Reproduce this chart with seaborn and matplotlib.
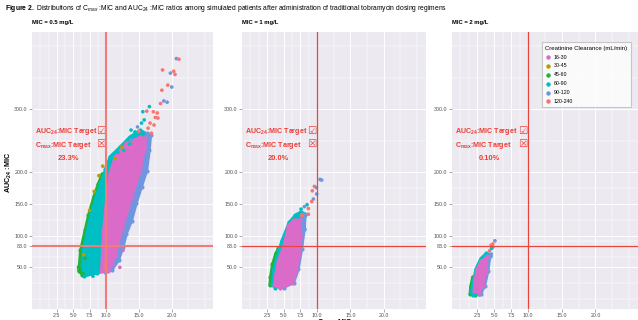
import pandas as pd
import matplotlib
matplotlib.use('Agg')
import matplotlib.pyplot as plt
from matplotlib.lines import Line2D
import seaborn as sns

# Groups and colours (creatinine clearance, mL/min)
groups = ['16-30', '30-45', '45-60', '60-90', '90-120', '120-240']
colors = ['#DB6BC8', '#B79F00', '#1DB33C', '#00BFC4', '#6F96E0', '#F8766D']

mic_titles = ['MIC = 0.5 mg/L', 'MIC = 1 mg/L', 'MIC = 2 mg/L']
pct_labels = ['23.3%', '20.0%', '0.10%']
x_ticks = [2.5, 5.0, 7.5, 10.0, 15.0, 20.0]
y_ticks = [50, 83, 100, 150, 200, 300]
x_minor = [0, 1.25, 3.75, 6.25, 8.75, 12.5, 17.5, 22.5, 25]
y_minor = [0, 25, 66.5, 91.5, 125, 175, 250, 350, 400]
cmax_target = 10
auc_target = 83

# Dense clouds, outlines (Cmax:MIC, AUC24:MIC)
p1_green = [(5.8, 45), (5.9, 52), (6.1, 77), (6.8, 109), (7.3, 132), (8.1, 161), (8.8, 182),
            (9.4, 198), (9.8, 195), (9.0, 170), (8.2, 140), (7.4, 105), (6.9, 75), (6.6, 50), (6.4, 38)]
p1_cyan = [(6.6, 36), (8.6, 41), (9.8, 44), (10.5, 60), (11.0, 100), (12.0, 150), (13.5, 200),
           (15.0, 235), (16.2, 261), (15.2, 267), (13.6, 256), (12.1, 240), (10.6, 225), (9.9, 205),
           (9.2, 184), (8.5, 162), (7.7, 134), (7.2, 110), (6.6, 80), (6.4, 55)]
p1_blue = [(9.8, 42), (10.9, 46), (11.9, 61), (12.6, 82), (13.1, 103), (13.9, 124), (14.6, 151),
           (15.4, 177), (16.2, 203), (16.6, 235), (16.8, 259), (16.2, 262), (15.5, 245), (14.5, 215),
           (13.0, 170), (11.5, 120), (10.2, 75), (9.6, 50)]
p1_magenta = [(9.3, 45), (9.35, 56), (9.6, 109), (10.1, 161), (10.6, 199), (11.4, 225), (13.1, 246),
              (15.2, 256), (16.0, 254), (15.9, 240), (15.2, 203), (13.9, 161), (12.4, 109), (11.4, 70),
              (10.9, 56), (10.3, 44)]

p2_green = [(2.9, 22), (3.0, 35), (3.3, 55), (3.8, 72), (4.2, 80), (4.0, 60), (3.6, 40), (3.4, 22)]
p2_cyan = [(3.3, 24), (3.5, 47), (4.0, 66), (4.7, 92), (5.8, 121), (6.7, 132), (7.6, 138),
           (8.2, 134), (8.1, 111), (7.0, 90), (5.5, 60), (4.5, 30), (3.7, 18)]
p2_blue = [(5.0, 18), (6.5, 26), (7.2, 47), (7.7, 79), (8.1, 111), (8.2, 132), (7.8, 134),
           (7.4, 110), (6.8, 80), (6.0, 45), (4.8, 20)]
p2_magenta = [(3.6, 22), (3.8, 40), (4.2, 60), (5.0, 84), (5.7, 115), (6.5, 125), (7.4, 125),
              (7.6, 100), (7.3, 70), (6.9, 45), (6.3, 25), (4.5, 17)]

p3_green = [(1.4, 8), (1.5, 20), (1.8, 35), (2.0, 30), (1.9, 12), (2.2, 6)]
p3_cyan = [(1.6, 11), (1.9, 29), (2.3, 48), (3.0, 64), (3.8, 72), (4.3, 70), (4.3, 68),
           (4.0, 45), (3.5, 21), (2.8, 8), (1.9, 7)]
p3_blue = [(3.0, 8), (3.6, 21), (4.1, 45), (4.35, 68), (4.0, 68), (3.8, 45), (3.3, 20), (2.8, 8)]
p3_magenta = [(2.0, 12), (2.1, 30), (2.5, 48), (3.1, 60), (3.9, 66), (3.8, 45), (3.3, 22), (2.7, 10)]

# Sparse points outside the dense clouds
p1_points = [(20.7, 380, '90-120'), (21.1, 379, '120-240'), (18.6, 362, '120-240'), (20.3, 360, '120-240'),
             (20.5, 355, '120-240'), (19.8, 357, '90-120'), (19.4, 338, '120-240'), (20.0, 335, '90-120'),
             (18.5, 330, '120-240'), (18.8, 313, '90-120'), (19.3, 311, '90-120'), (18.3, 309, '120-240'),
             (16.6, 304, '60-90'), (16.2, 297, '120-240'), (15.6, 296, '60-90'), (17.2, 296, '120-240'),
             (17.8, 294, '120-240'), (17.5, 287, '120-240'), (17.9, 286, '120-240'), (15.4, 278, '60-90'),
             (16.7, 278, '120-240'), (14.8, 272, '90-120'), (17.3, 275, '120-240'), (13.8, 267, '60-90'),
             (14.4, 264, '60-90'), (15.0, 265, '120-240'), (13.8, 251, '90-120'), (13.6, 245, '60-90'),
             (12.7, 235, '60-90'), (11.8, 232, '60-90'), (12.4, 240, '30-45'), (11.4, 222, '30-45'),
             (16.4, 270, '120-240'), (16.9, 262, '120-240'), (15.8, 283, '60-90'),
             (6.5, 40, '45-60'), (5.8, 50, '45-60'), (6.8, 64, '45-60'), (10.0, 45, '120-240'),
             (9.85, 53, '120-240'), (12.1, 50, '16-30'), (12.6, 77, '16-30'), (8.0, 36, '60-90'),
             (8.2, 170, '30-45'), (8.9, 195, '30-45'), (9.5, 210, '30-45'), (7.5, 140, '30-45'),
             (6.6, 70, '30-45')]
p2_points = [(10.45, 189, '90-120'), (10.7, 188, '90-120'), (9.6, 178, '120-240'), (9.9, 176, '90-120'),
             (9.3, 171, '120-240'), (9.95, 166, '90-120'), (9.45, 158, '90-120'), (9.2, 154, '120-240'),
             (8.5, 149, '60-90'), (8.1, 146, '90-120'), (8.7, 143, '120-240'), (7.6, 142, '60-90'),
             (7.1, 134, '60-90'), (8.7, 134, '120-240'), (7.7, 132, '120-240')]
p3_points = [(5.1, 92, '90-120'), (4.8, 87, '120-240'), (4.55, 85, '120-240'), (4.8, 82, '90-120'),
             (4.3, 76, '120-240'), (4.55, 71, '90-120'), (4.6, 80, '60-90')]

clouds = [
    [('45-60', p1_green), ('60-90', p1_cyan), ('90-120', p1_blue), ('16-30', p1_magenta)],
    [('45-60', p2_green), ('60-90', p2_cyan), ('90-120', p2_blue), ('16-30', p2_magenta)],
    [('45-60', p3_green), ('60-90', p3_cyan), ('90-120', p3_blue), ('16-30', p3_magenta)],
]
sparse = [p1_points, p2_points, p3_points]
palette = dict(zip(groups, colors))

plt.rcParams['font.family'] = ['Liberation Sans', 'DejaVu Sans']
plt.rcParams['mathtext.fontset'] = 'custom'
plt.rcParams['mathtext.rm'] = 'Liberation Sans'
plt.rcParams['mathtext.bf'] = 'Liberation Sans:bold'
plt.rcParams['mathtext.it'] = 'Liberation Sans:italic'

fig = plt.figure(figsize=(6.38, 3.2), dpi=100)
panel_pos = [[0.050, 0.034, 0.284, 0.866],
             [0.379, 0.034, 0.288, 0.866],
             [0.708, 0.034, 0.292, 0.866]]
red = '#EE3B35'

for i in range(3):
    ax = fig.add_axes(panel_pos[i])
    ax.set_facecolor('#ECEAF0')
    for s in ax.spines.values():
        s.set_visible(False)
    ax.set_axisbelow(True)

    # dense clouds: filled outline plus the outline points themselves for a grainy edge
    for g, poly in clouds[i]:
        xs = [p[0] for p in poly]
        ys = [p[1] for p in poly]
        ax.fill(xs, ys, color=palette[g], ec=palette[g], lw=2.0, joinstyle='round', zorder=2)
        ax.scatter(xs, ys, color=palette[g], s=9, lw=0, zorder=2)

    df = pd.DataFrame(sparse[i], columns=['cmax', 'auc', 'crcl'])
    sns.scatterplot(data=df, x='cmax', y='auc', hue='crcl', palette=palette, hue_order=groups,
                    s=7, linewidth=0, legend=False, ax=ax, zorder=3)

    lw = 1.5 if i == 0 else 0.9
    lc = '#EF7C78' if i == 0 else '#E8453C'
    ax.axvline(cmax_target, color=lc, lw=lw, zorder=4)
    ax.axhline(auc_target, color=lc, lw=lw, zorder=4)

    ax.set_xlim(-1.3, 26.3)
    ax.set_ylim(-16, 422)
    ax.set_xticks(x_ticks)
    ax.set_xticklabels([f'{v:.1f}' for v in x_ticks])
    ax.set_yticks(y_ticks)
    ax.set_yticklabels([f'{v:.1f}' for v in y_ticks])
    ax.set_xticks(x_minor, minor=True)
    ax.set_yticks(y_minor, minor=True)
    ax.grid(which='major', color='white', lw=0.7)
    ax.grid(which='minor', color='white', lw=0.35)
    ax.tick_params(which='major', labelsize=3.8, labelcolor='#4D4D4D', color='#666666',
                   length=2, width=0.4, pad=1)
    ax.tick_params(which='minor', length=0)
    ax.set_xlabel('')
    ax.set_ylabel('')

    ax.text(0.0, 1.025, mic_titles[i], transform=ax.transAxes, fontsize=4.2,
            fontweight='bold', ha='left', va='bottom')

    ax.text(0.018, 0.64, r'AUC$_{\bf{24}}$:MIC Target', transform=ax.transAxes, fontsize=5.1,
            fontweight='bold', color=red, ha='left', va='center')
    ax.text(0.018, 0.592, r'C$_{\bf{max}}$:MIC Target', transform=ax.transAxes, fontsize=5.1,
            fontweight='bold', color=red, ha='left', va='center')
    ax.text(0.355, 0.643, '\u2611', transform=ax.transAxes, fontsize=7.5, color=red,
            family=['DejaVu Sans'], ha='left', va='center')
    ax.text(0.355, 0.595, '\u2612', transform=ax.transAxes, fontsize=7.5, color=red,
            family=['DejaVu Sans'], ha='left', va='center')
    ax.text(0.2, 0.545, pct_labels[i], transform=ax.transAxes, fontsize=5.4,
            fontweight='bold', color=red, ha='center', va='center')

    if i == 2:
        handles = [Line2D([0], [0], marker='o', lw=0, color=c, markersize=2.2) for c in colors]
        leg = ax.legend(handles, groups, title='Creatinine Clearance (mL/min)', loc='upper right',
                        bbox_to_anchor=(0.975, 0.972), fontsize=3.8, title_fontsize=4.3,
                        frameon=True, fancybox=False, borderpad=0.6, labelspacing=0.75,
                        handletextpad=0.6, handlelength=1.0)
        leg.get_frame().set_edgecolor('#BBBBBB')
        leg.get_frame().set_linewidth(0.8)
        leg._legend_box.align = 'left'

fig.text(0.008, 0.972, r'$\bf{Figure\ 2.}$ Distributions of C$_{max}$ :MIC and AUC$_{24}$ :MIC ratios '
         'among simulated patients after administration of traditional tobramycin dosing regimens',
         fontsize=4.9, ha='left', va='center')
fig.text(0.014, 0.46, r'AUC$_{\bf{24}}$ :MIC', rotation=90, fontsize=5.2, fontweight='bold',
         ha='center', va='center')
fig.text(0.525, -0.008, r'C$_{\bf{max}}$ :MIC', fontsize=5.2, fontweight='bold', ha='center', va='center')

fig.savefig('out.png', dpi=100)
